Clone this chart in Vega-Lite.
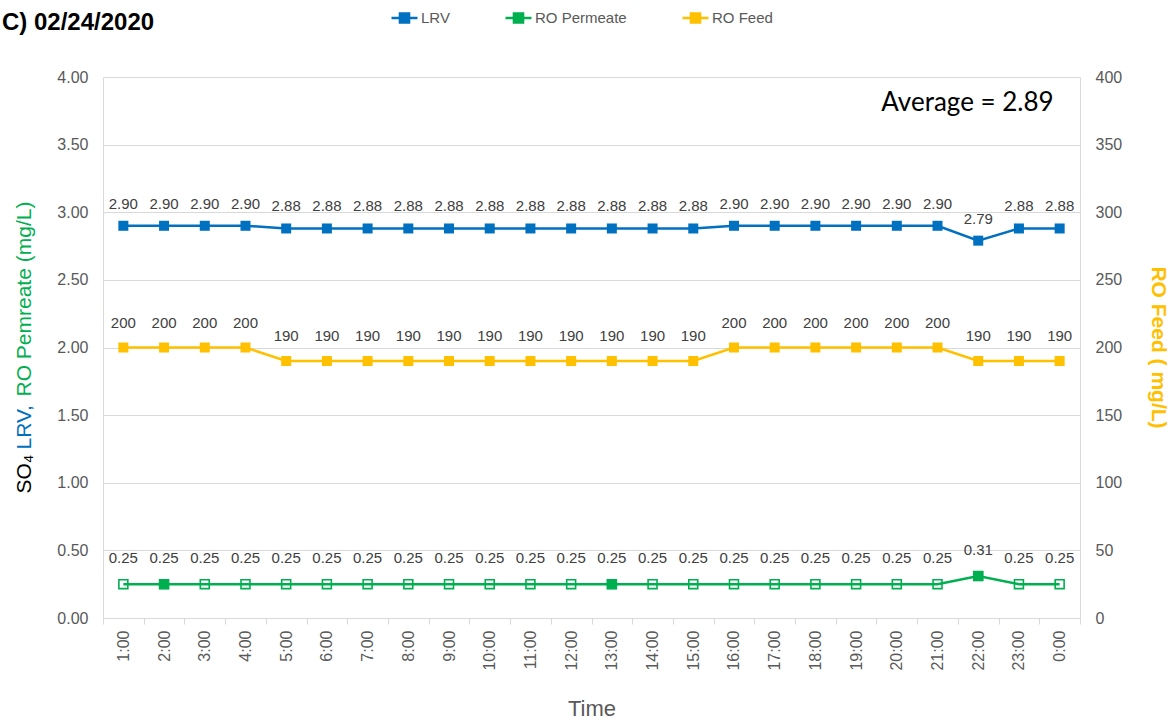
{
  "$schema": "https://vega.github.io/schema/vega-lite/v6.json",
  "width": 977,
  "height": 541,
  "autosize": "none",
  "padding": {"left": 103, "top": 77, "right": 96, "bottom": 107},
  "background": "white",
  "title": {
    "text": "C) 02/24/2020",
    "anchor": "start",
    "frame": "group",
    "font": "Liberation Sans",
    "fontSize": 24,
    "fontWeight": "bold",
    "color": "#000000",
    "baseline": "alphabetic",
    "dx": -101,
    "offset": -51
  },
  "data": {
    "values": [
      {"time": "1:00", "LRV": 2.90, "Permeate": 0.25, "Feed": 200},
      {"time": "2:00", "LRV": 2.90, "Permeate": 0.25, "Feed": 200},
      {"time": "3:00", "LRV": 2.90, "Permeate": 0.25, "Feed": 200},
      {"time": "4:00", "LRV": 2.90, "Permeate": 0.25, "Feed": 200},
      {"time": "5:00", "LRV": 2.88, "Permeate": 0.25, "Feed": 190},
      {"time": "6:00", "LRV": 2.88, "Permeate": 0.25, "Feed": 190},
      {"time": "7:00", "LRV": 2.88, "Permeate": 0.25, "Feed": 190},
      {"time": "8:00", "LRV": 2.88, "Permeate": 0.25, "Feed": 190},
      {"time": "9:00", "LRV": 2.88, "Permeate": 0.25, "Feed": 190},
      {"time": "10:00", "LRV": 2.88, "Permeate": 0.25, "Feed": 190},
      {"time": "11:00", "LRV": 2.88, "Permeate": 0.25, "Feed": 190},
      {"time": "12:00", "LRV": 2.88, "Permeate": 0.25, "Feed": 190},
      {"time": "13:00", "LRV": 2.88, "Permeate": 0.25, "Feed": 190},
      {"time": "14:00", "LRV": 2.88, "Permeate": 0.25, "Feed": 190},
      {"time": "15:00", "LRV": 2.88, "Permeate": 0.25, "Feed": 190},
      {"time": "16:00", "LRV": 2.90, "Permeate": 0.25, "Feed": 200},
      {"time": "17:00", "LRV": 2.90, "Permeate": 0.25, "Feed": 200},
      {"time": "18:00", "LRV": 2.90, "Permeate": 0.25, "Feed": 200},
      {"time": "19:00", "LRV": 2.90, "Permeate": 0.25, "Feed": 200},
      {"time": "20:00", "LRV": 2.90, "Permeate": 0.25, "Feed": 200},
      {"time": "21:00", "LRV": 2.90, "Permeate": 0.25, "Feed": 200},
      {"time": "22:00", "LRV": 2.79, "Permeate": 0.31, "Feed": 190},
      {"time": "23:00", "LRV": 2.88, "Permeate": 0.25, "Feed": 190},
      {"time": "0:00", "LRV": 2.88, "Permeate": 0.25, "Feed": 190}
    ]
  },
  "encoding": {
    "x": {
      "field": "time",
      "type": "ordinal",
      "sort": null,
      "title": "Time",
      "scale": {
        "type": "band",
        "paddingInner": 0,
        "paddingOuter": 0,
        "domain": ["1:00","2:00","3:00","4:00","5:00","6:00","7:00","8:00","9:00","10:00","11:00","12:00","13:00","14:00","15:00","16:00","17:00","18:00","19:00","20:00","21:00","22:00","23:00","0:00"]
      },
      "axis": {
        "labelAngle": -90,
        "labelAlign": "right",
        "labelBaseline": "middle",
        "labelFontSize": 16,
        "labelPadding": 6,
        "tickBand": "extent",
        "ticks": true,
        "tickSize": 6,
        "tickColor": "#d9d9d9",
        "domainColor": "#d9d9d9",
        "grid": false,
        "titleFontSize": 22,
        "titlePadding": 28
      }
    }
  },
  "layer": [
    {
      "encoding": {
        "y": {
          "field": "LRV",
          "type": "quantitative",
          "scale": {"domain": [0, 4]},
          "axis": {
            "orient": "left",
            "values": [0, 0.5, 1, 1.5, 2, 2.5, 3, 3.5, 4],
            "format": ".2f",
            "grid": true,
            "gridColor": "#d9d9d9",
            "domain": true,
            "domainColor": "#d9d9d9",
            "ticks": false,
            "labelPadding": 15,
            "labelFontSize": 16,
            "title": "LRV,",
            "titleColor": "#0070C0",
            "titleFontSize": 21,
            "titleAngle": -90,
            "titleAlign": "left",
            "titleBaseline": "alphabetic",
            "titleX": -73,
            "titleY": 372
          }
        }
      },
      "layer": [
        {
          "mark": {"type": "line", "strokeWidth": 2.5},
          "encoding": {
            "color": {
              "datum": "LRV",
              "type": "nominal",
              "legend": {"encode": {"symbols": {"update": {"fill": {"signal": "datum.value === 'RO Permeate' ? 'transparent' : scale('color', datum.value)"}, "stroke": {"signal": "scale('color', datum.value)"}}}}}
            }
          }
        },
        {
          "mark": {"type": "point", "shape": "square", "filled": true, "size": 100, "opacity": 1},
          "encoding": {
            "color": {
              "datum": "LRV",
              "type": "nominal",
              "legend": {"encode": {"symbols": {"update": {"fill": {"signal": "datum.value === 'RO Permeate' ? 'transparent' : scale('color', datum.value)"}, "stroke": {"signal": "scale('color', datum.value)"}}}}}
            }
          }
        },
        {
          "mark": {"type": "text", "fontSize": 15, "color": "#404040", "baseline": "alphabetic", "dy": -17, "font": "Liberation Sans"},
          "encoding": {"text": {"field": "LRV", "type": "quantitative", "format": ".2f"}}
        }
      ]
    },
    {
      "encoding": {
        "y": {
          "field": "Permeate",
          "type": "quantitative",
          "scale": {"domain": [0, 4]},
          "axis": {
            "orient": "left",
            "labels": false,
            "ticks": false,
            "domain": false,
            "grid": false,
            "title": "RO Pemreate (mg/L)",
            "titleColor": "#00B050",
            "titleFontSize": 21,
            "titleAngle": -90,
            "titleAlign": "left",
            "titleBaseline": "alphabetic",
            "titleX": -73,
            "titleY": 319
          }
        }
      },
      "layer": [
        {
          "mark": {"type": "line", "strokeWidth": 2.5},
          "encoding": {
            "color": {
              "datum": "RO Permeate",
              "type": "nominal",
              "legend": {"encode": {"symbols": {"update": {"fill": {"signal": "datum.value === 'RO Permeate' ? 'transparent' : scale('color', datum.value)"}, "stroke": {"signal": "scale('color', datum.value)"}}}}}
            }
          }
        },
        {
          "mark": {"type": "point", "shape": "square", "filled": false, "size": 80, "strokeWidth": 1.6, "opacity": 1},
          "encoding": {
            "color": {
              "datum": "RO Permeate",
              "type": "nominal",
              "legend": {"encode": {"symbols": {"update": {"fill": {"signal": "datum.value === 'RO Permeate' ? 'transparent' : scale('color', datum.value)"}, "stroke": {"signal": "scale('color', datum.value)"}}}}}
            }
          }
        },
        {
          "mark": {"type": "text", "fontSize": 15, "color": "#404040", "baseline": "alphabetic", "dy": -21, "font": "Liberation Sans"},
          "encoding": {"text": {"field": "Permeate", "type": "quantitative", "format": ".2f"}}
        }
      ]
    },
    {
      "transform": [{"filter": {"field": "time", "oneOf": ["2:00", "13:00", "22:00"]}}],
      "mark": {"type": "point", "shape": "square", "filled": true, "size": 100, "opacity": 1},
      "encoding": {
        "color": {
          "datum": "RO Permeate",
          "type": "nominal",
          "legend": {"encode": {"symbols": {"update": {"fill": {"signal": "datum.value === 'RO Permeate' ? 'transparent' : scale('color', datum.value)"}, "stroke": {"signal": "scale('color', datum.value)"}}}}}
        },
        "y": {
          "field": "Permeate",
          "type": "quantitative",
          "scale": {"domain": [0, 4]},
          "axis": {
            "orient": "left",
            "labels": false,
            "ticks": false,
            "domain": false,
            "grid": false,
            "title": "SO₄",
            "titleColor": "#000000",
            "titleFontSize": 21,
            "titleAngle": -90,
            "titleAlign": "left",
            "titleBaseline": "alphabetic",
            "titleX": -73,
            "titleY": 416
          }
        }
      }
    },
    {
      "encoding": {
        "y": {
          "field": "Feed",
          "type": "quantitative",
          "scale": {"domain": [0, 400]},
          "axis": {
            "orient": "right",
            "values": [0, 50, 100, 150, 200, 250, 300, 350, 400],
            "format": "d",
            "grid": false,
            "domain": true,
            "domainColor": "#d9d9d9",
            "ticks": false,
            "labelPadding": 15,
            "labelFontSize": 16,
            "title": "RO Feed ( mg/L)",
            "titleColor": "#FFC000",
            "titleFontSize": 21,
            "titleFontWeight": "bold",
            "titleAngle": 90,
            "titleAlign": "center",
            "titleBaseline": "middle",
            "titleX": 77,
            "titleY": 270
          }
        }
      },
      "layer": [
        {
          "mark": {"type": "line", "strokeWidth": 2.5},
          "encoding": {
            "color": {
              "datum": "RO Feed",
              "type": "nominal",
              "legend": {"encode": {"symbols": {"update": {"fill": {"signal": "datum.value === 'RO Permeate' ? 'transparent' : scale('color', datum.value)"}, "stroke": {"signal": "scale('color', datum.value)"}}}}}
            }
          }
        },
        {
          "mark": {"type": "point", "shape": "square", "filled": true, "size": 100, "opacity": 1},
          "encoding": {
            "color": {
              "datum": "RO Feed",
              "type": "nominal",
              "legend": {"encode": {"symbols": {"update": {"fill": {"signal": "datum.value === 'RO Permeate' ? 'transparent' : scale('color', datum.value)"}, "stroke": {"signal": "scale('color', datum.value)"}}}}}
            }
          }
        },
        {
          "mark": {"type": "text", "fontSize": 15, "color": "#404040", "baseline": "alphabetic", "dy": -20, "font": "Liberation Sans"},
          "encoding": {"text": {"field": "Feed", "type": "quantitative", "format": "d"}}
        }
      ]
    },
    {
      "data": {"values": [{"label": "Average = 2.89"}]},
      "mark": {"type": "text", "font": "Lato", "fontSize": 26, "color": "#000000", "align": "right", "baseline": "middle", "dx": -6},
      "encoding": {
        "x": {"datum": "0:00", "type": "ordinal"},
        "y": {"datum": 3.81, "type": "quantitative", "scale": {"domain": [0, 4]}, "axis": null},
        "text": {"field": "label", "type": "nominal"}
      }
    }
  ],
  "resolve": {"scale": {"y": "independent"}},
  "config": {
    "font": "Liberation Sans",
    "view": {"stroke": null},
    "axis": {
      "labelFont": "Liberation Sans",
      "titleFont": "Liberation Sans",
      "labelColor": "#595959",
      "titleColor": "#595959",
      "titleFontWeight": "normal"
    },
    "range": {"category": ["#0070C0", "#00B050", "#FFC000"]},
    "legend": {
      "orient": "none",
      "legendX": 287,
      "legendY": -74,
      "direction": "horizontal",
      "title": null,
      "labelFont": "Liberation Sans",
      "labelFontSize": 15,
      "labelColor": "#595959",
      "labelOffset": 2,
      "columnPadding": 50,
      "symbolType": "M-1,0H1M-0.35,-0.35H0.35V0.35H-0.35Z",
      "symbolSize": 676,
      "symbolStrokeWidth": 2.5,
      "symbolOpacity": 1
    }
  }
}
